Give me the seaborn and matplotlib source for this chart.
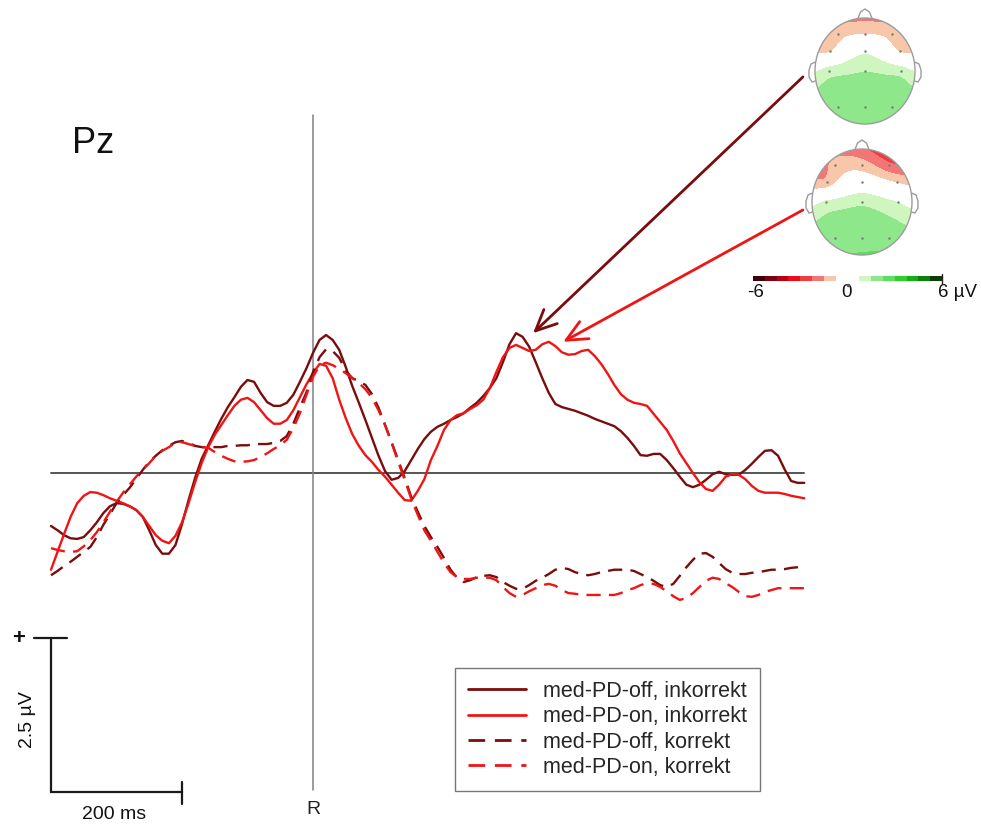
import numpy as np
import pandas as pd
import matplotlib
matplotlib.use("Agg")
import matplotlib.pyplot as plt
import seaborn as sns
from matplotlib.colors import ListedColormap, BoundaryNorm
from matplotlib.patches import Ellipse, Polygon

# ---------------------------------------------------------------- data
time_ms = np.append(np.arange(-400, 741, 10), 750)

off_incorrect = [-0.86, -0.93, -1.01, -1.06, -1.07, -1.04, -0.93, -0.80, -0.65, -0.54,
                 -0.49, -0.50, -0.54, -0.60, -0.71, -0.93, -1.17, -1.31, -1.31, -1.17,
                 -0.83, -0.44, -0.08, 0.23, 0.45, 0.67, 0.88, 1.07, 1.23, 1.40,
                 1.51, 1.48, 1.30, 1.15, 1.09, 1.09, 1.14, 1.27, 1.48, 1.70,
                 1.95, 2.16, 2.24, 2.16, 2.00, 1.72, 1.41, 1.14, 0.86, 0.57,
                 0.28, 0.03, -0.11, -0.08, 0.03, 0.21, 0.39, 0.55, 0.67, 0.75,
                 0.80, 0.86, 0.91, 0.97, 1.06, 1.14, 1.25, 1.38, 1.54, 1.80,
                 2.09, 2.27, 2.21, 2.05, 1.80, 1.54, 1.30, 1.12, 1.07, 1.04,
                 1.01, 0.97, 0.93, 0.88, 0.84, 0.80, 0.76, 0.68, 0.57, 0.44,
                 0.29, 0.28, 0.31, 0.31, 0.21, 0.08, -0.06, -0.19, -0.23, -0.19,
                 -0.11, -0.02, 0.02, -0.02, -0.03, -0.03, 0.05, 0.15, 0.26, 0.36,
                 0.37, 0.28, 0.06, -0.13, -0.16, -0.16]
on_incorrect = [-1.57, -1.28, -0.99, -0.71, -0.49, -0.37, -0.31, -0.32, -0.36, -0.41,
                -0.45, -0.49, -0.54, -0.60, -0.71, -0.86, -1.01, -1.10, -1.14, -1.02,
                -0.80, -0.49, -0.15, 0.16, 0.42, 0.62, 0.78, 0.94, 1.09, 1.19,
                1.22, 1.15, 1.02, 0.89, 0.80, 0.80, 0.86, 1.02, 1.23, 1.44,
                1.62, 1.77, 1.74, 1.54, 1.19, 0.89, 0.63, 0.44, 0.29, 0.18,
                0.05, -0.06, -0.19, -0.32, -0.44, -0.45, -0.29, -0.10, 0.21, 0.44,
                0.70, 0.86, 0.94, 0.97, 1.04, 1.10, 1.19, 1.38, 1.64, 1.88,
                2.03, 2.08, 2.03, 1.98, 2.00, 2.09, 2.13, 2.06, 1.96, 1.92,
                1.93, 1.98, 2.00, 1.90, 1.77, 1.61, 1.43, 1.28, 1.19, 1.14,
                1.12, 1.09, 0.96, 0.83, 0.70, 0.52, 0.32, 0.16, 0.00, -0.15,
                -0.26, -0.29, -0.19, -0.06, -0.02, -0.03, -0.10, -0.21, -0.29, -0.32,
                -0.32, -0.32, -0.34, -0.37, -0.39, -0.41]
off_correct = [-1.66, -1.59, -1.51, -1.44, -1.36, -1.28, -1.20, -1.04, -0.84, -0.67,
               -0.49, -0.36, -0.24, -0.10, 0.05, 0.18, 0.28, 0.37, 0.44, 0.50,
               0.52, 0.49, 0.44, 0.42, 0.42, 0.42, 0.42, 0.44, 0.44, 0.45,
               0.45, 0.47, 0.47, 0.47, 0.49, 0.52, 0.60, 0.80, 1.06, 1.31,
               1.64, 1.88, 2.01, 1.98, 1.87, 1.66, 1.54, 1.49, 1.43, 1.28,
               1.06, 0.78, 0.50, 0.21, -0.08, -0.39, -0.63, -0.86, -1.04, -1.20,
               -1.38, -1.57, -1.70, -1.77, -1.74, -1.69, -1.67, -1.66, -1.69, -1.77,
               -1.83, -1.88, -1.88, -1.82, -1.75, -1.70, -1.64, -1.57, -1.54, -1.56,
               -1.61, -1.64, -1.66, -1.64, -1.61, -1.59, -1.57, -1.57, -1.57, -1.59,
               -1.64, -1.69, -1.75, -1.82, -1.85, -1.80, -1.67, -1.53, -1.41, -1.31,
               -1.30, -1.36, -1.46, -1.56, -1.62, -1.64, -1.64, -1.62, -1.61, -1.59,
               -1.57, -1.57, -1.56, -1.54, -1.53, -1.53]
on_correct = [-1.22, -1.25, -1.27, -1.28, -1.27, -1.19, -1.09, -0.96, -0.80, -0.63,
              -0.47, -0.32, -0.19, -0.06, 0.05, 0.16, 0.28, 0.36, 0.42, 0.49,
              0.50, 0.47, 0.44, 0.42, 0.41, 0.34, 0.28, 0.23, 0.19, 0.18,
              0.19, 0.21, 0.26, 0.32, 0.39, 0.45, 0.54, 0.73, 0.97, 1.27,
              1.56, 1.75, 1.79, 1.75, 1.69, 1.62, 1.54, 1.46, 1.36, 1.22,
              1.02, 0.78, 0.49, 0.18, -0.11, -0.42, -0.68, -0.93, -1.10, -1.28,
              -1.46, -1.61, -1.69, -1.72, -1.72, -1.70, -1.70, -1.70, -1.74, -1.85,
              -1.95, -2.01, -1.98, -1.92, -1.87, -1.82, -1.80, -1.83, -1.90, -1.95,
              -1.96, -1.98, -1.98, -1.98, -1.98, -1.98, -1.98, -1.95, -1.90, -1.87,
              -1.82, -1.79, -1.80, -1.85, -1.92, -2.00, -2.06, -2.03, -1.95, -1.85,
              -1.75, -1.70, -1.72, -1.79, -1.85, -1.93, -2.00, -2.01, -1.98, -1.93,
              -1.90, -1.87, -1.87, -1.87, -1.87, -1.87]

conditions = ["med-PD-off, inkorrekt", "med-PD-on, inkorrekt",
              "med-PD-off, korrekt", "med-PD-on, korrekt"]

# electrode layout (pixels relative to head centre, y up) and scalp values in µV
elec_x = [-27, 0, 27, -35, 0, 35, -36, 0, 36, -27, 0, 27]
elec_y = [37, 37, 37, 20, 20, 20, 0, 0, 0, -36, -36, -36]
topo_off = [-1.10, -0.80, -1.10, -0.85, 0.55, -0.85, 1.10, 1.45, 1.15, 1.85, 1.90, 1.85]
topo_on = [-1.25, -1.15, -2.10, -1.30, -0.10, -0.85, 0.85, 1.30, 0.70, 1.90, 2.00, 1.95]

cbar_levels = np.arange(-6, 6.01, 0.75)
cbar_colors = ["#3e0009", "#7c000f", "#b9000f", "#e80d18", "#f23c3c", "#f27676", "#f8c6a9",
               "#ffffff", "#ffffff",
               "#d0f6c0", "#8ee88b", "#5cdf5c", "#2ccf2c", "#12b012", "#0b800b", "#0b3d0b"]

scale_uv = 2.5
scale_ms = 200

# ---------------------------------------------------------------- setup
W, H = 981, 825
sns.set_theme(style="white")
plt.rcParams["font.family"] = ["Liberation Sans", "DejaVu Sans"]

fig = plt.figure(figsize=(W / 100, H / 100), dpi=100)
ax = fig.add_axes([0, 0, 1, 1])
px_ms, px_uv, x0, y0 = 0.655, 61.6, 313, 473
ax.set_xlim(-x0 / px_ms, (W - x0) / px_ms)
ax.set_ylim(-(H - y0) / px_uv, y0 / px_uv)
ax.axis("off")

dark, red = "#7a0c0c", "#f01414"

# axes cross
ax.plot([time_ms[0], time_ms[-1]], [0, 0], color="#555555", lw=1.4, zorder=1)
ax.plot([0, 0], [-5.15, 5.81], color="#808080", lw=1.1, zorder=1)

# waveforms
frames = [pd.DataFrame({"time": time_ms, "amp": v, "cond": c})
          for c, v in zip(conditions, [off_incorrect, on_incorrect, off_correct, on_correct])]
df = pd.concat(frames, ignore_index=True)
palette = {conditions[0]: dark, conditions[1]: red, conditions[2]: dark, conditions[3]: red}
dash_map = {conditions[0]: "", conditions[1]: "", conditions[2]: (6, 3.5), conditions[3]: (6, 3.5)}
sns.lineplot(data=df, x="time", y="amp", hue="cond", style="cond", palette=palette,
             dashes=dash_map, estimator=None, linewidth=1.7, ax=ax, legend=True, zorder=3)

handles, labels = ax.get_legend_handles_labels()
leg = ax.legend(handles, labels, loc="upper left",
                bbox_to_anchor=(455 / W, 1 - 668 / H), bbox_transform=fig.transFigure,
                frameon=True, fancybox=False, edgecolor="#555555", fontsize=15.5,
                handlelength=2.7, handletextpad=0.8, labelspacing=0.2,
                borderpad=0.6, borderaxespad=0)
leg.get_frame().set_linewidth(1.0)
for lh in leg.get_lines():
    lh.set_linewidth(2.0)

ax.text(-368, 5.19, "Pz", fontsize=26, ha="left", va="baseline", color="#111111")
ax.text(0, -5.47, "R", fontsize=14, ha="center", va="center", color="#222222")

# calibration bar
t0 = time_ms[0]
sb_top = -2.68
sb_bot = sb_top - scale_uv
ax.plot([t0, t0, t0 + scale_ms], [sb_top, sb_bot, sb_bot], color="#1a1a1a", lw=1.6,
        solid_joinstyle="miter")
ax.plot([t0 - 26, t0 + 24], [sb_top, sb_top], color="#1a1a1a", lw=1.6)
ax.plot([t0 + scale_ms] * 2, [sb_bot + 0.16, sb_bot - 0.19], color="#1a1a1a", lw=1.6)
ax.text(t0 - 50, sb_top, "+", fontsize=16, fontweight="bold", ha="center", va="center",
        color="#111111")
ax.text(t0 - 36, sb_top - 1.33, f"{scale_uv} µV", fontsize=14, rotation=90,
        ha="center", va="center", color="#111111")
ax.text(t0 + 97, -5.55, f"{scale_ms} ms", fontsize=14, ha="center", va="center",
        color="#111111")

# arrows from the maps to the peaks
ax.annotate("", xy=(336, 2.27), xytext=(748, 6.43),
            arrowprops=dict(arrowstyle="->,head_length=0.75,head_width=0.35", color=dark,
                            lw=2.0, shrinkA=0, shrinkB=0, mutation_scale=20))
ax.annotate("", xy=(382, 2.13), xytext=(748, 4.27),
            arrowprops=dict(arrowstyle="->,head_length=0.75,head_width=0.35", color=red,
                            lw=2.0, shrinkA=0, shrinkB=0, mutation_scale=20))

# ---------------------------------------------------------------- scalp maps
cmap = ListedColormap(cbar_colors)
norm = BoundaryNorm(cbar_levels, cmap.N)


def tps(px, py, vals, gx, gy):
    pts = np.c_[px, py] / 50.0
    n = len(pts)

    def kern(r):
        with np.errstate(divide="ignore", invalid="ignore"):
            k = r ** 2 * np.log(r)
        return np.nan_to_num(k)

    d = np.sqrt(((pts[:, None, :] - pts[None, :, :]) ** 2).sum(-1))
    A = np.zeros((n + 3, n + 3))
    P = np.c_[np.ones(n), pts]
    A[:n, :n] = kern(d)
    A[:n, n:] = P
    A[n:, :n] = P.T
    coef = np.linalg.solve(A, np.r_[vals, np.zeros(3)])
    g = np.c_[gx.ravel(), gy.ravel()] / 50.0
    dg = np.sqrt(((g[:, None, :] - pts[None, :, :]) ** 2).sum(-1))
    f = kern(dg) @ coef[:n] + coef[n] + g @ coef[n + 1:]
    return f.reshape(gx.shape)


def scalp_map(cx, cy, vals):
    size = 130
    hax = fig.add_axes([(cx - size / 2) / W, 1 - (cy + size / 2) / H, size / W, size / H])
    hax.set_xlim(-size / 2, size / 2)
    hax.set_ylim(-size / 2, size / 2)
    hax.axis("off")
    gx, gy = np.meshgrid(np.linspace(-55, 55, 160), np.linspace(-58, 58, 170))
    field = np.clip(tps(elec_x, elec_y, vals, gx, gy), -5.99, 5.99)
    cs = hax.contourf(gx, gy, field, levels=cbar_levels, cmap=cmap, norm=norm)
    clip = Ellipse((0, 0), 100, 106, transform=hax.transData)
    cs.set_clip_path(clip)
    edge = "#9c9c9c"
    hax.add_patch(Ellipse((0, 0), 100, 106, fill=False, ec=edge, lw=1.0))
    hax.add_patch(Polygon([(-7, 52.5), (-4.5, 59), (0, 62), (4.5, 59), (7, 52.5)],
                          closed=False, fill=False, ec=edge, lw=1.0))
    for s in (-1, 1):
        hax.add_patch(Polygon([(s * 49.6, 9), (s * 54, 7), (s * 56, 1), (s * 56, -6),
                               (s * 53, -11), (s * 49.3, -10)],
                              closed=False, fill=False, ec=edge, lw=1.0))
    hax.scatter(elec_x, elec_y, s=3, color="#777777", zorder=5, linewidths=0)


scalp_map(865, 71, topo_off)
scalp_map(862, 202, topo_on)

# colour scale
cax = fig.add_axes([753 / W, 1 - 281 / H, 189 / W, 5 / H])
mids = (cbar_levels[:-1] + cbar_levels[1:]) / 2
cax.pcolormesh(cbar_levels, [0, 1], mids[None, :], cmap=cmap, norm=norm)
cax.set_xlim(-6, 6)
cax.set_ylim(0, 1)
cax.axis("off")
cax.plot([6, 6], [-0.5, 1.4], color="#222222", lw=1.0, clip_on=False)
cax.plot([0], [-0.7], marker="o", ms=1.5, color="#555555", clip_on=False)

lab_v = (y0 - 284) / px_uv
ax.text(675, lab_v, "-6", fontsize=13.5, ha="center", va="top", color="#111111")
ax.text(815, lab_v, "0", fontsize=13.5, ha="center", va="top", color="#111111")
ax.text(984, lab_v, "6 µV", fontsize=13.5, ha="center", va="top", color="#111111")

fig.savefig("out.png", dpi=100)
